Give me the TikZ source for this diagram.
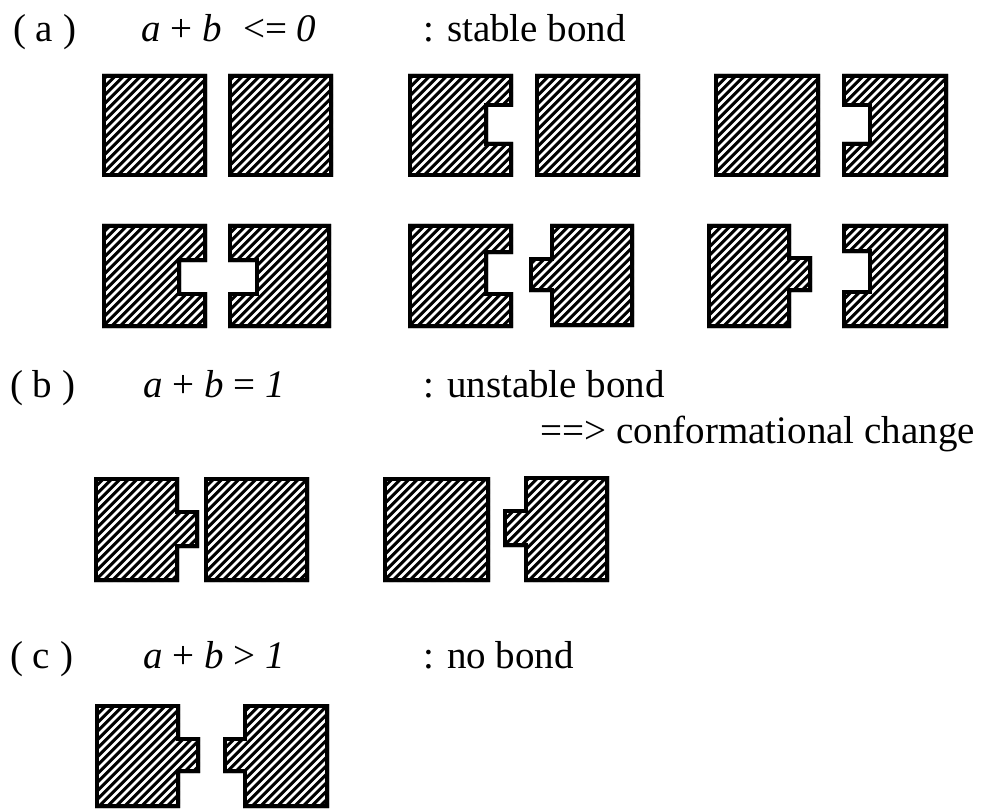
\documentclass[tikz,border=0pt]{standalone}
\usepackage{fontspec}
\setmainfont{Liberation Serif}
\begin{document}
\begin{tikzpicture}[x=1pt,y=-1pt,
  lbl/.style={inner sep=0pt,anchor=base west,font=\fontsize{39}{47}\selectfont},
  outline/.style={line width=8pt,line join=miter,draw=black},
  stripe/.style={white,line width=2.5pt}]
\useasboundingbox (0,0) rectangle (984,810);
% shape paths (pixel coordinates of the outer edges, y downwards)
\def\sA{(102,74) rectangle (207,177)}
\def\sB{(228,74) rectangle (333,177)}
\def\sC{(408,74) -- (513,74) -- (513,107) -- (488,107) -- (488,142) -- (513,142) -- (513,177) -- (408,177) -- cycle}
\def\sD{(535,74) rectangle (640,177)}
\def\sE{(714,74) rectangle (820,177)}
\def\sF{(842,74) -- (948,74) -- (948,177) -- (842,177) -- (842,142) -- (868,142) -- (868,107) -- (842,107) -- cycle}
\def\sG{(102,224) -- (207,224) -- (207,262) -- (181,262) -- (181,292) -- (207,292) -- (207,328) -- (102,328) -- cycle}
\def\sH{(228,224) -- (331,224) -- (331,328) -- (228,328) -- (228,292) -- (255,292) -- (255,262) -- (228,262) -- cycle}
\def\sI{(408,224) -- (513,224) -- (513,254) -- (488,254) -- (488,292) -- (513,292) -- (513,328) -- (408,328) -- cycle}
\def\sJ{(550,224) -- (634,224) -- (634,327) -- (550,327) -- (550,292) -- (529,292) -- (529,257) -- (550,257) -- cycle}
\def\sK{(707,224) -- (791,224) -- (791,256) -- (812,256) -- (812,292) -- (791,292) -- (791,328) -- (707,328) -- cycle}
\def\sL{(842,224) -- (948,224) -- (948,328) -- (842,328) -- (842,290) -- (868,290) -- (868,253) -- (842,253) -- cycle}
\def\sM{(94,477) -- (179,477) -- (179,510) -- (199,510) -- (199,548) -- (179,548) -- (179,582) -- (94,582) -- cycle}
\def\sN{(204,477) rectangle (309,582)}
\def\sO{(383,477) rectangle (490,582)}
\def\sP{(524,476) -- (609,476) -- (609,582) -- (524,582) -- (524,547) -- (503,547) -- (503,509) -- (524,509) -- cycle}
\def\sQ{(95,704) -- (180,704) -- (180,737) -- (200,737) -- (200,773) -- (180,773) -- (180,808) -- (95,808) -- cycle}
\def\sR{(243,704) -- (329,704) -- (329,808) -- (243,808) -- (243,773) -- (223,773) -- (223,737) -- (243,737) -- cycle}
\begin{scope}
  \clip \sA \sB \sC \sD \sE \sF \sG \sH \sI \sJ \sK \sL \sM \sN \sO \sP \sQ \sR;
  \fill[black] (0,0) rectangle (984,810);
  \foreach \k in {0,8.5,...,1800} \draw[stripe] (\k,0) -- (0,\k);
  \draw[outline] \sA \sB \sC \sD \sE \sF \sG \sH \sI \sJ \sK \sL \sM \sN \sO \sP \sQ \sR;
\end{scope}
% labels
\node[lbl] (la) at (13,42) {( a )};
\node[lbl] (fa) at (141,42) {\itshape a\upshape{} + \itshape b\upshape{}\hspace{0.3em} <= \itshape 0};
\node[lbl] (da) at (423,42) {: stable bond};
\node[lbl] (lb) at (10,397) {( b )};
\node[lbl] (fb) at (143,397) {\itshape a\upshape{} + \itshape b\upshape{} = \itshape 1};
\node[lbl] (db) at (423,397) {: unstable bond};
\node[lbl,anchor=base east] (cb) at (975,443) {==> conformational change};
\node[lbl] (lc) at (10,668) {( c )};
\node[lbl] (fc) at (143,668) {\itshape a\upshape{} + \itshape b\upshape{} > \itshape 1};
\node[lbl] (dc) at (423,668) {: no bond};
\end{tikzpicture}
\end{document}
